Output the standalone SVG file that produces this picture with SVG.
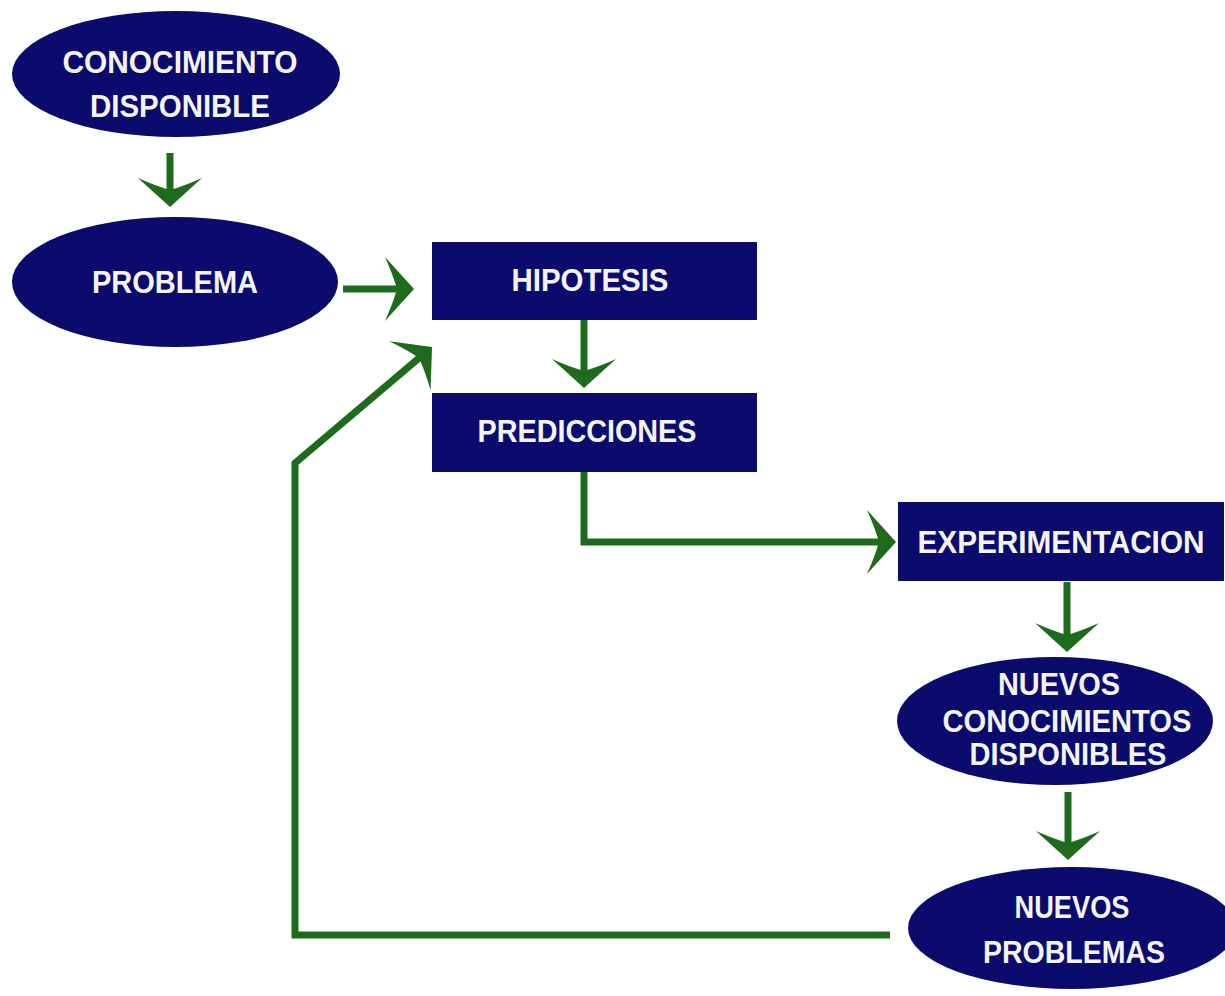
<svg xmlns="http://www.w3.org/2000/svg" width="1225" height="996" viewBox="0 0 1225 996">
<style>
.node{fill:#0b0b6d}
.lbl{font-family:"Liberation Sans",Arial,sans-serif;font-weight:bold;font-size:31px;fill:#f4f4f4;text-anchor:middle}
.conn{fill:none;stroke:#1e6b1e;stroke-width:7;marker-end:url(#ah)}
</style>
<defs>
<marker id="ah" markerUnits="userSpaceOnUse" viewBox="-32 -35 36 70" markerWidth="36" markerHeight="70" refX="-10" refY="0" orient="auto">
<path d="M0,0 L-29,-32 Q-21,-14 -17,0 Q-21,14 -29,32 Z" fill="#1e6b1e"/>
</marker>
</defs>
<rect width="1225" height="996" fill="#ffffff"/>
<g id="connectors">
<path class="conn" d="M170,153 V197"/>
<path class="conn" d="M343,289 H404"/>
<path class="conn" d="M584,320 V378"/>
<path class="conn" d="M584,472 V542 H886"/>
<path class="conn" d="M1067,582 V642"/>
<path class="conn" d="M1068,792 V850"/>
<path class="conn" d="M890,935 H295 V463 L424.4,353.5"/>
</g>
<g id="conocimiento">
<ellipse class="node" cx="176" cy="74" rx="164" ry="63"/>
<text class="lbl" x="180" y="73" textLength="235" lengthAdjust="spacingAndGlyphs">CONOCIMIENTO</text>
<text class="lbl" x="180" y="117" textLength="180" lengthAdjust="spacingAndGlyphs">DISPONIBLE</text>
</g>
<g id="problema">
<ellipse class="node" cx="175" cy="282" rx="163" ry="65"/>
<text class="lbl" x="175" y="293" textLength="166" lengthAdjust="spacingAndGlyphs">PROBLEMA</text>
</g>
<g id="hipotesis">
<rect class="node" x="432" y="242" width="325" height="78"/>
<text class="lbl" x="590" y="291" textLength="157" lengthAdjust="spacingAndGlyphs">HIPOTESIS</text>
</g>
<g id="predicciones">
<rect class="node" x="432" y="393" width="325" height="79"/>
<text class="lbl" x="587" y="442" textLength="219" lengthAdjust="spacingAndGlyphs">PREDICCIONES</text>
</g>
<g id="experimentacion">
<rect class="node" x="898" y="502" width="326" height="79"/>
<text class="lbl" x="1061" y="553" textLength="287" lengthAdjust="spacingAndGlyphs">EXPERIMENTACION</text>
</g>
<g id="nuevos-conocimientos">
<ellipse class="node" cx="1055" cy="721" rx="158" ry="64"/>
<text class="lbl" x="1059" y="695" textLength="122" lengthAdjust="spacingAndGlyphs">NUEVOS</text>
<text class="lbl" x="1067" y="732" textLength="249" lengthAdjust="spacingAndGlyphs">CONOCIMIENTOS</text>
<text class="lbl" x="1068" y="765" textLength="197" lengthAdjust="spacingAndGlyphs">DISPONIBLES</text>
</g>
<g id="nuevos-problemas">
<ellipse class="node" cx="1072" cy="928" rx="164" ry="61"/>
<text class="lbl" x="1072" y="918" textLength="115" lengthAdjust="spacingAndGlyphs">NUEVOS</text>
<text class="lbl" x="1074" y="963" textLength="182" lengthAdjust="spacingAndGlyphs">PROBLEMAS</text>
</g>
</svg>
